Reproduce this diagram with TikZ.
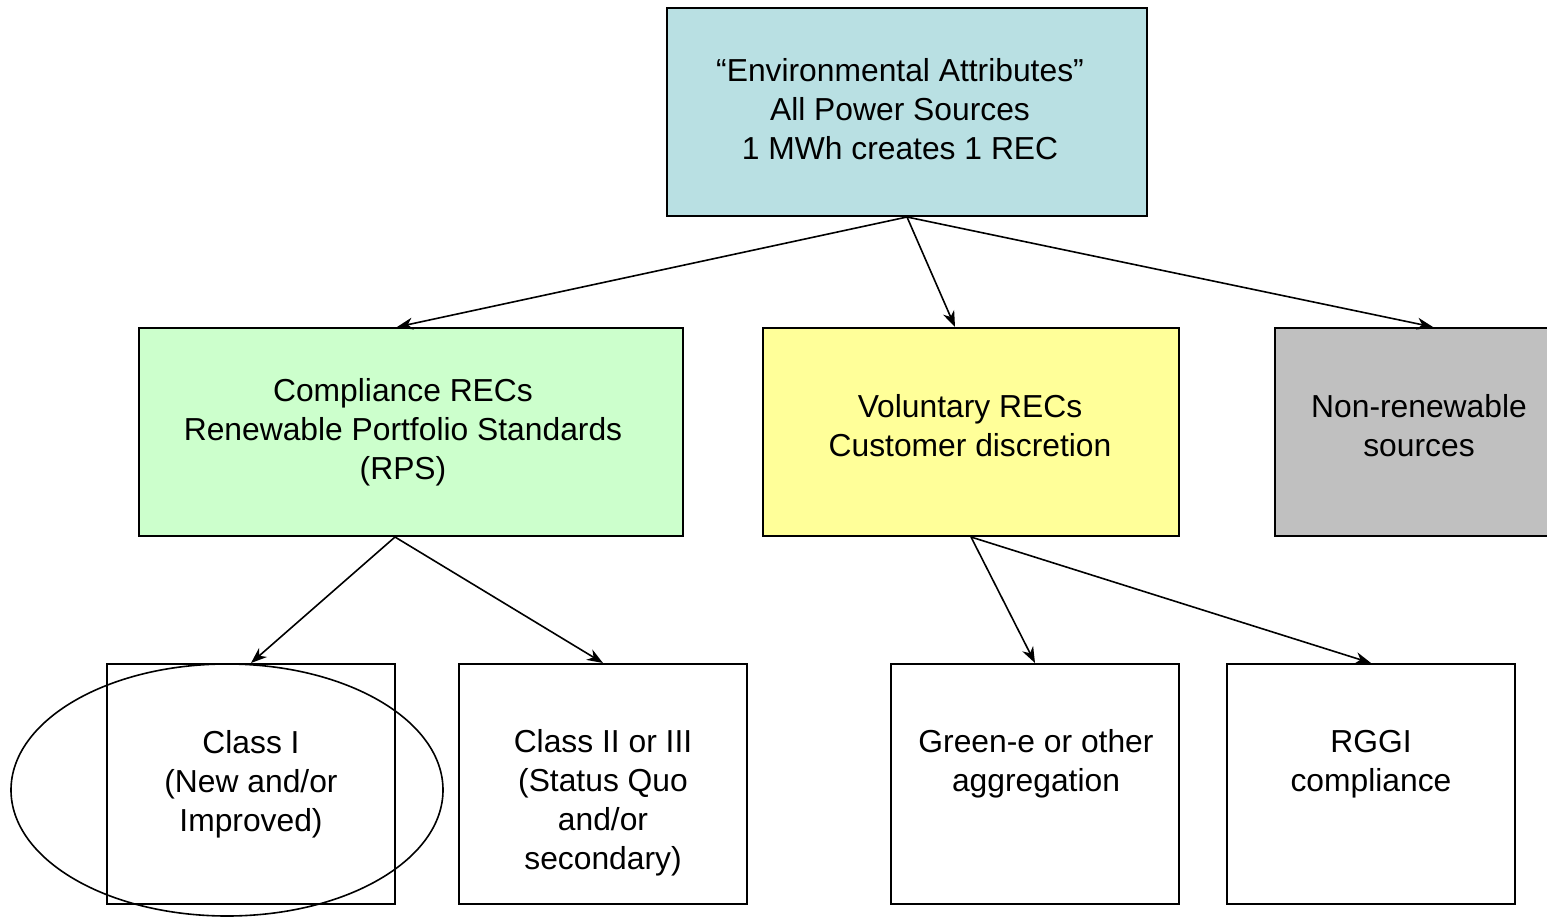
\documentclass[tikz,border=0pt]{standalone}
\usepackage{fontspec}
\setmainfont{Liberation Sans}
\usetikzlibrary{arrows.meta,shapes.geometric}
\definecolor{topblue}{RGB}{185,224,227}
\definecolor{compgreen}{RGB}{204,255,204}
\definecolor{volyellow}{RGB}{255,255,153}
\definecolor{nrgray}{RGB}{192,192,192}
\tikzset{
  box/.style={draw=black, line width=2pt, inner sep=0pt},
  txt/.style={align=center, font=\fontsize{31.8}{39}\selectfont, inner sep=0pt},
  conn/.style={line width=1.6pt, -{Stealth[length=16pt,width=12pt,inset=5pt]}},
}
\begin{document}
\begin{tikzpicture}[x=1pt,y=-1pt]
\useasboundingbox (0,0) rectangle (1547,918);
\clip (0,0) rectangle (1547,918);
% boxes
\node[box, fill=topblue, minimum width=480pt, minimum height=208pt] (top) at (907,112) {};
\node[box, fill=compgreen, minimum width=544pt, minimum height=208pt] (comp) at (411,432) {};
\node[box, fill=volyellow, minimum width=416pt, minimum height=208pt] (vol) at (971,432) {};
\node[box, fill=nrgray, minimum width=290pt, minimum height=208pt] (nonren) at (1420,432) {};
\node[box, minimum width=288pt, minimum height=240pt] (c1) at (251,784) {};
\node[box, minimum width=288pt, minimum height=240pt] (c2) at (603,784) {};
\node[box, minimum width=288pt, minimum height=240pt] (ge) at (1035,784) {};
\node[box, minimum width=288pt, minimum height=240pt] (rg) at (1371,784) {};
% texts
\node[txt] (toptxt) at (900,109) {“Environmental Attributes”\\All Power Sources\\1 MWh creates 1 REC};
\node[txt] (comptxt) at (403,432) {Compliance RECs\\Renewable Portfolio Standards\\(RPS)};
\node[txt] (voltxt) at (970,426) {Voluntary RECs\\Customer discretion};
\node[txt] (nrtxt) at (1419,426) {Non-renewable\\sources};
\node[txt] (c1txt) at (251,784) {Class I\\(New and/or\\Improved)};
\node[txt] (c2txt) at (603,803) {Class II or III\\(Status Quo\\and/or\\secondary)};
\node[txt] (getxt) at (1036,764) {Green-e or other\\aggregation};
\node[txt] (rgtxt) at (1371,764) {RGGI\\compliance};
% ellipse highlight
\node[draw=black, line width=1.6pt, ellipse, minimum width=432pt, minimum height=252pt, inner sep=0pt] (hl) at (227,790) {};
% connectors
\draw[conn] (top.south) -- ([xshift=-14pt]comp.north);
\draw[conn] (top.south) -- ([xshift=-16pt]vol.north);
\draw[conn] (top.south) -- ([xshift=13pt]nonren.north);
\draw[conn] ([xshift=-16pt]comp.south) -- (c1.north);
\draw[conn] ([xshift=-16pt]comp.south) -- (c2.north);
\draw[conn] (vol.south) -- (ge.north);
\draw[conn] (vol.south) -- (rg.north);
\end{tikzpicture}
\end{document}
